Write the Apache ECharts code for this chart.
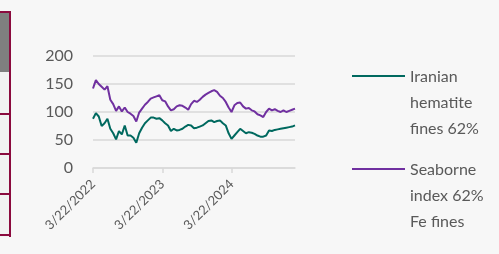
<!DOCTYPE html>
<html>
<head>
<meta charset="utf-8">
<script src="https://cdn.jsdelivr.net/npm/echarts@6/dist/echarts.min.js"></script>
<style>
  html, body { margin: 0; padding: 0; background: #f7f7f7; }
  #chart { width: 499px; height: 254px; }
</style>
</head>
<body>
<div id="chart"></div>
<script>
// dates, half-monthly points (7th and 22nd)
var dates = [];
(function () {
  var y = 2022, m = 3, d = 22;
  for (var i = 0; i < 71; i++) {
    dates.push(m + '/' + d + '/' + y);
    if (d === 22) { d = 7; m++; if (m > 12) { m = 1; y++; } } else { d = 22; }
  }
})();

var iranian = [88, 98, 92, 75, 80, 88, 70, 62, 51, 66, 60, 76, 58, 58, 54, 45, 62, 72, 80, 85,
  90, 90, 88, 89, 85, 80, 76, 66, 70, 67, 68, 70, 74, 77, 76, 71, 72, 74, 76, 80,
  84, 85, 82, 84, 85, 80, 76, 62, 52, 58, 64, 70, 66, 62, 64, 63, 61, 58, 56, 56,
  58, 67, 66, 68, 69, 70, 71, 72, 73, 74, 76];

var seaborne = [142, 157, 150, 145, 140, 146, 122, 114, 102, 110, 101, 108, 100, 97, 93, 83, 99, 106, 113, 118,
  124, 126, 128, 130, 121, 119, 110, 103, 105, 110, 112, 111, 108, 104, 114, 120, 118, 122, 127, 131,
  134, 137, 139, 136, 129, 125, 118, 108, 100, 112, 116, 117, 110, 106, 107, 103, 101, 96, 94, 91,
  100, 106, 103, 105, 102, 100, 103, 100, 102, 104, 106];

var legendNames = ['Iranian\nhematite\nfines 62%', 'Seaborne\nindex 62%\nFe fines'];
var colors = ['#00695f', '#7030a0'];

var chart = echarts.init(document.getElementById('chart'));
var font = 'Lato, "Open Sans", sans-serif';

var option = {
  backgroundColor: '#f7f7f7',
  animation: false,
  grid: { left: 93, right: 204, top: 56, bottom: 86 },
  xAxis: {
    type: 'category',
    data: dates,
    boundaryGap: false,
    axisLine: { lineStyle: { color: '#d9d9d9', width: 1.5 } },
    axisTick: { show: true, length: 5, interval: function (i) { return i % 24 === 0; }, lineStyle: { color: '#d9d9d9', width: 1.5 } },
    axisLabel: {
      interval: function (i) { return i % 24 === 0; },
      rotate: 45,
      margin: 14,
      color: '#595959',
      fontSize: 13,
      fontFamily: font
    }
  },
  yAxis: {
    type: 'value',
    min: 0, max: 200, interval: 50,
    axisLine: { show: false },
    axisTick: { show: false },
    splitLine: { lineStyle: { color: '#d9d9d9', width: 1.5 } },
    axisLabel: { color: '#595959', fontSize: 16, fontFamily: font, margin: 20 }
  },
  series: [
    { name: legendNames[0], type: 'line', data: iranian, showSymbol: false, lineStyle: { color: colors[0], width: 2 }, itemStyle: { color: colors[0] } },
    { name: legendNames[1], type: 'line', data: seaborne, showSymbol: false, lineStyle: { color: colors[1], width: 2 }, itemStyle: { color: colors[1] } }
  ],
  graphic: [
    // cropped neighbour box at left edge
    { type: 'rect', shape: { x: 0, y: 12, width: 10, height: 225 }, style: { fill: '#f2f2f2' } },
    { type: 'rect', shape: { x: 0, y: 12, width: 10, height: 60 }, style: { fill: '#7f7f7f' } },
    { type: 'rect', shape: { x: 0, y: 11, width: 11, height: 2 }, style: { fill: '#8b0a3e' } },
    { type: 'rect', shape: { x: 9, y: 11, width: 2, height: 226 }, style: { fill: '#8b0a3e' } },
    { type: 'rect', shape: { x: 0, y: 113, width: 10, height: 2 }, style: { fill: '#8b0a3e' } },
    { type: 'rect', shape: { x: 0, y: 153, width: 10, height: 2 }, style: { fill: '#8b0a3e' } },
    { type: 'rect', shape: { x: 0, y: 193, width: 10, height: 2 }, style: { fill: '#8b0a3e' } },
    { type: 'rect', shape: { x: 0, y: 234, width: 10, height: 2 }, style: { fill: '#8b0a3e' } },
    // legend
    { type: 'line', shape: { x1: 352, y1: 76, x2: 405, y2: 76 }, style: { stroke: colors[0], lineWidth: 2 } },
    { type: 'text', x: 410, y: 64, style: { text: legendNames[0], fill: '#595959', fontSize: 16, fontFamily: font, lineHeight: 26 } },
    { type: 'line', shape: { x1: 352, y1: 169, x2: 405, y2: 169 }, style: { stroke: colors[1], lineWidth: 2 } },
    { type: 'text', x: 410, y: 157, style: { text: legendNames[1], fill: '#595959', fontSize: 16, fontFamily: font, lineHeight: 26 } }
  ]
};
chart.setOption(option);
</script>
</body>
</html>
